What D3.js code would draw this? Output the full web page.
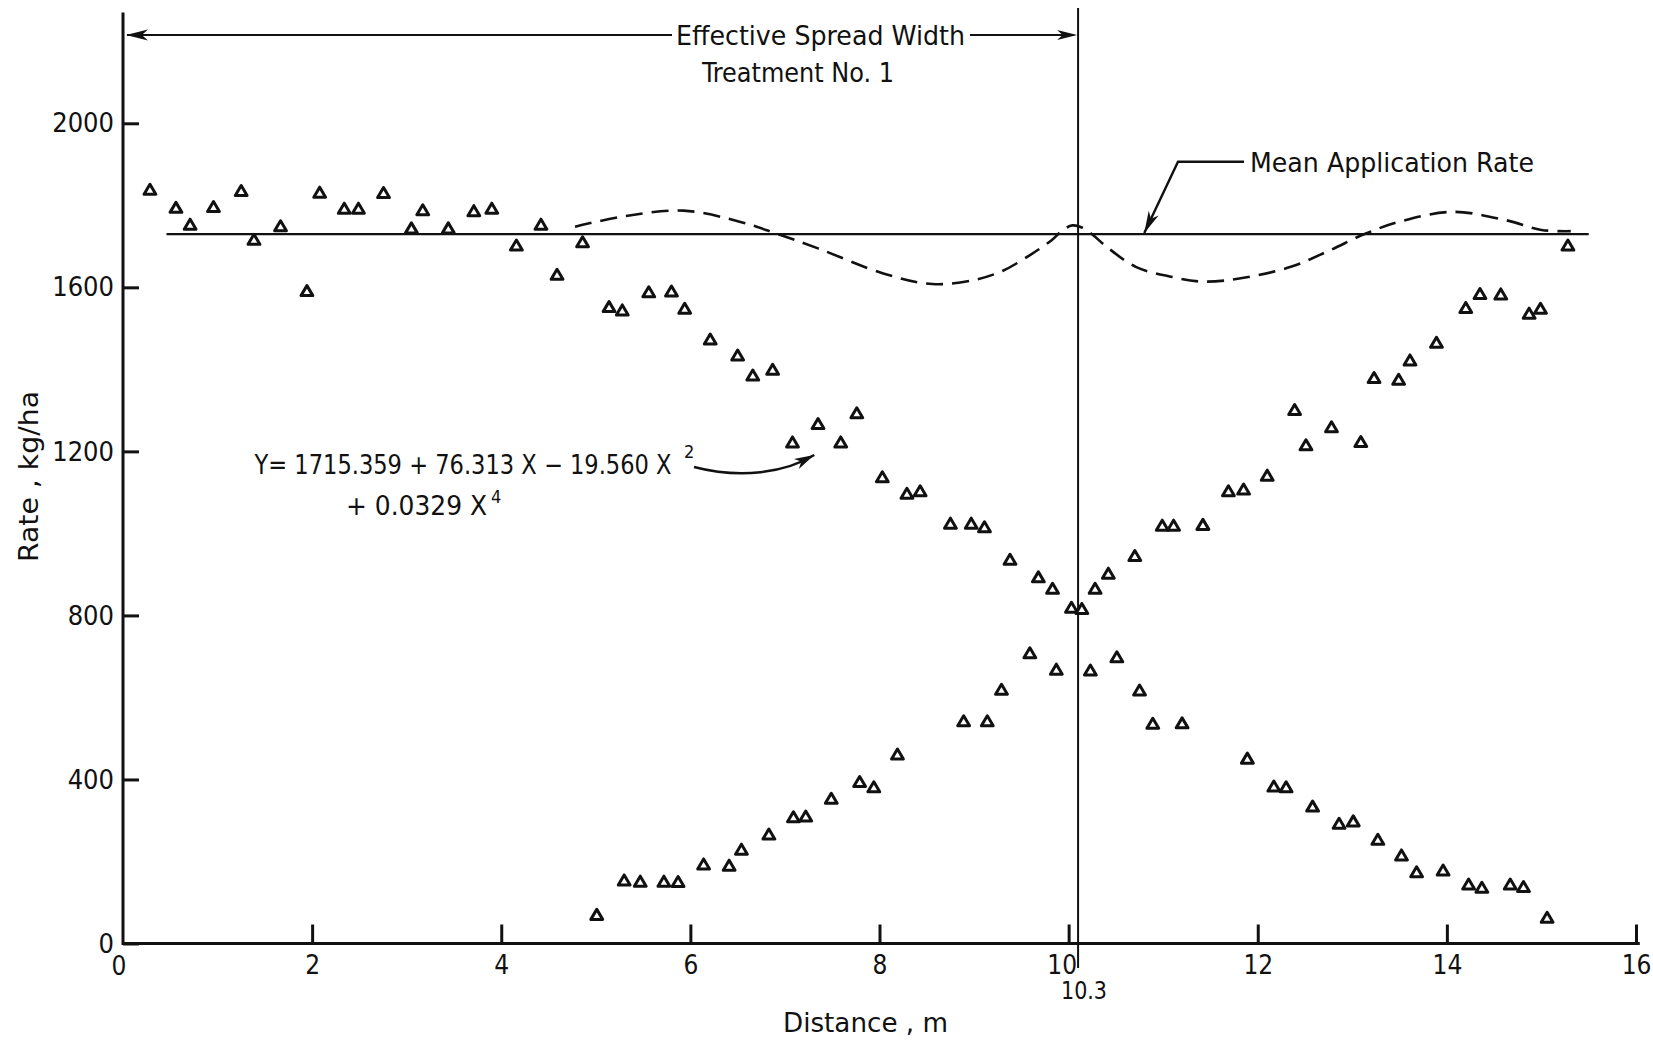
<!DOCTYPE html>
<html><head><meta charset="utf-8">
<script src="https://cdn.jsdelivr.net/npm/d3@7"></script>
<style>
body{margin:0;background:#fff}
svg{display:block}
text{font-family:'DejaVu Sans Condensed','Liberation Sans Narrow','DejaVu Sans',sans-serif;fill:#111}
</style>
</head><body>
<svg id="chart" width="1653" height="1042"></svg>
<script>
// ---------- data ----------
const xTicks = [0, 2, 4, 6, 8, 10, 12, 14, 16];
const yTicks = [0, 400, 800, 1200, 1600, 2000];

// Descending distribution (treatment pass)
const descX = [0.285,0.56,0.71,0.957,1.25,1.385,1.666,1.945,2.08,2.34,2.49,2.755,3.05,3.17,3.44,3.71,3.90,4.16,4.42,4.59,4.86,5.14,5.28,5.56,5.80,5.94,6.21,6.50,6.66,6.87,7.08,7.35,7.59,7.76,8.03,8.29,8.43,8.75,8.97,9.11,9.38,9.68,9.83,10.03,10.23,10.51,10.75,10.89,11.20,11.89,12.17,12.30,12.58,12.86,13.01,13.27,13.52,13.68,13.96,14.23,14.37,14.67,14.81,15.06];
const descY = [1839,1795,1754,1797,1836,1717,1750,1592,1832,1793,1793,1831,1745,1789,1745,1787,1793,1703,1754,1632,1711,1553,1545,1589,1591,1549,1474,1435,1386,1400,1223,1268,1223,1294,1138,1098,1104,1025,1025,1016,937,894,866,820,667,699,618,537,538,452,384,382,335,293,299,254,216,175,179,145,137,145,139,64];

// Ascending distribution (adjacent pass)
const ascX = [5.01,5.30,5.47,5.72,5.87,6.14,6.41,6.54,6.83,7.09,7.22,7.49,7.79,7.94,8.19,8.89,9.14,9.29,9.59,9.87,10.14,10.28,10.42,10.70,10.99,11.11,11.42,11.69,11.85,12.10,12.39,12.51,12.78,13.09,13.23,13.49,13.61,13.89,14.20,14.35,14.57,14.87,14.99,15.28];
const ascY = [71,155,152,152,151,194,191,230,267,309,311,354,395,382,462,543,543,620,709,669,817,866,903,946,1020,1020,1022,1104,1108,1142,1302,1216,1260,1224,1380,1376,1423,1466,1551,1585,1584,1537,1549,1703];

// Overlapped (fitted) distribution, dashed
const curveX = [4.78,5.32,5.93,6.54,6.90,7.35,8.04,8.56,9.00,9.30,9.60,9.82,9.94,10.04,10.14,10.26,10.38,10.71,11.08,11.41,11.82,12.35,12.76,13.13,13.50,14.06,14.62,15.00,15.31];
const curveY = [1748,1774,1787,1759,1732,1695,1634,1608,1618,1640,1680,1715,1740,1751,1746,1727,1703,1650,1626,1614,1622,1650,1690,1730,1760,1784,1764,1740,1737];

const meanRate = 1730;
const meanExtent = [0.46, 15.5];
const spreadWidthPos = 10.1;      // where the divider is drawn on the figure
const spreadWidthLabel = "10.3";

// ---------- scales ----------
const svg = d3.select("#chart");
const x = d3.scaleLinear().domain([0, 16]).range([123, 1636]);
const y = d3.scaleLinear().domain([0, 2000]).range([943.5, 123.3]);

const ink = "#111";

// ---------- axes ----------
const yAxis = d3.axisLeft(y).tickValues(yTicks).tickSize(-16).tickPadding(9).tickFormat(d3.format("d"));
const gy = svg.append("g").attr("transform", `translate(${x(0)},0)`).call(yAxis);
gy.select(".domain").remove();
gy.selectAll(".tick line").attr("stroke", ink).attr("stroke-width", 3);
gy.selectAll(".tick text").attr("font-size", 27).attr("fill", ink);

const xAxis = d3.axisBottom(x).tickValues(xTicks.filter(d => d > 0)).tickSize(-19).tickPadding(12).tickFormat(d3.format("d"));
const gx = svg.append("g").attr("transform", `translate(0,${y(0)})`).call(xAxis);
gx.select(".domain").remove();
gx.selectAll(".tick line").attr("stroke", ink).attr("stroke-width", 3);
gx.selectAll(".tick text").attr("font-size", 26).attr("fill", ink)
  .attr("dx", d => d === 10 ? -7 : 0);
// x-axis "0" label (no tick mark, sits at the corner)
svg.append("text").attr("x", x(0) - 4).attr("y", 975).attr("text-anchor", "middle")
  .attr("font-size", 26).text(xTicks[0]);

// axis lines
svg.append("line").attr("x1", x(0)).attr("x2", x(0)).attr("y1", y(0) + 1.5).attr("y2", y(2270))
  .attr("stroke", ink).attr("stroke-width", 3);
svg.append("line").attr("x1", x(0)).attr("x2", x(16.04)).attr("y1", y(0)).attr("y2", y(0))
  .attr("stroke", ink).attr("stroke-width", 3);

// ---------- helpers ----------
function arrowHead(tip, from, len, half) {
  const dx = tip[0] - from[0], dy = tip[1] - from[1];
  const L = Math.hypot(dx, dy), ux = dx / L, uy = dy / L, px = -uy, py = ux;
  const bx = tip[0] - ux * len, by = tip[1] - uy * len;
  const nx = tip[0] - ux * len * 0.72, ny = tip[1] - uy * len * 0.72;
  svg.append("path")
    .attr("d", `M${tip[0]},${tip[1]}L${bx + px * half},${by + py * half}L${nx},${ny}L${bx - px * half},${by - py * half}Z`)
    .attr("fill", ink);
}

// ---------- mean application rate line ----------
svg.append("line")
  .attr("x1", x(meanExtent[0])).attr("x2", x(meanExtent[1]))
  .attr("y1", y(meanRate)).attr("y2", y(meanRate))
  .attr("stroke", ink).attr("stroke-width", 2.2);

// ---------- divider (effective spread width) ----------
svg.append("line")
  .attr("x1", x(spreadWidthPos)).attr("x2", x(spreadWidthPos))
  .attr("y1", 8).attr("y2", 968)
  .attr("stroke", ink).attr("stroke-width", 2);

// ---------- dashed overlap curve ----------
const curvePts = curveX.map((d, i) => [d, curveY[i]]);
svg.append("path")
  .attr("d", d3.line().x(d => x(d[0])).y(d => y(d[1])).curve(d3.curveCatmullRom.alpha(0.5))(curvePts))
  .attr("fill", "none").attr("stroke", ink).attr("stroke-width", 2.6)
  .attr("stroke-dasharray", "17,9");

// ---------- triangles ----------
const tri = "M0,-5L5.9,5L-5.9,5Z";
const pts = descX.map((d, i) => [d, descY[i]]).concat(ascX.map((d, i) => [d, ascY[i]]));
svg.append("g").selectAll("path").data(pts).join("path")
  .attr("d", tri)
  .attr("transform", d => `translate(${x(d[0])},${y(d[1])})`)
  .attr("fill", "#fff").attr("stroke", ink).attr("stroke-width", 3)
  .attr("stroke-linejoin", "round");

// ---------- top annotation: effective spread width ----------
const topY = 35;
svg.append("line").attr("x1", x(0) + 4).attr("x2", 672).attr("y1", topY).attr("y2", topY)
  .attr("stroke", ink).attr("stroke-width", 2);
svg.append("line").attr("x1", 970).attr("x2", x(spreadWidthPos) - 4).attr("y1", topY).attr("y2", topY)
  .attr("stroke", ink).attr("stroke-width", 2);
arrowHead([x(0) + 3, topY], [x(0) + 50, topY], 22, 5.5);
arrowHead([x(spreadWidthPos) - 1, topY], [x(spreadWidthPos) - 50, topY], 20, 5);
svg.append("text").attr("x", 676).attr("y", 45).attr("font-size", 27)
  .attr("textLength", 289).attr("lengthAdjust", "spacingAndGlyphs").text("Effective Spread Width");
svg.append("text").attr("x", 702).attr("y", 81.7).attr("font-size", 27)
  .attr("textLength", 192).attr("lengthAdjust", "spacingAndGlyphs").text("Treatment No. 1");

// ---------- mean application rate label ----------
const meanTip = [x(10.8), y(meanRate) - 1];
const elbow = [1178, 161.7];
svg.append("path").attr("d", `M1244,161.7L${elbow[0]},${elbow[1]}L${meanTip[0]},${meanTip[1]}`)
  .attr("fill", "none").attr("stroke", ink).attr("stroke-width", 2.4);
arrowHead(meanTip, elbow, 22, 5.5);
svg.append("text").attr("x", 1250).attr("y", 171.7).attr("font-size", 27)
  .attr("textLength", 284).attr("lengthAdjust", "spacingAndGlyphs").text("Mean Application Rate");

// ---------- equation (superscripts as tspans of the same text) ----------
const eq1 = svg.append("text").attr("x", 254.5).attr("y", 474).attr("font-size", 27);
eq1.append("tspan").attr("textLength", 417).attr("lengthAdjust", "spacingAndGlyphs")
  .text("Y= 1715.359 + 76.313 X \u2212 19.560 X");
eq1.append("tspan").attr("x", 684).attr("dy", -16).attr("font-size", 18).text("2");
const eq2 = svg.append("text").attr("x", 346).attr("y", 515).attr("font-size", 27);
eq2.append("tspan").attr("textLength", 141).attr("lengthAdjust", "spacingAndGlyphs").text("+ 0.0329 X");
eq2.append("tspan").attr("x", 491).attr("dy", -12).attr("font-size", 18).text("4");
const eqTip = [x(7.31), y(1191)];
svg.append("path").attr("d", `M694,467C740,479 785,473 ${eqTip[0]},${eqTip[1]}`)
  .attr("fill", "none").attr("stroke", ink).attr("stroke-width", 2.4);
arrowHead(eqTip, [eqTip[0] - 28, eqTip[1] + 14], 20, 5.5);

// ---------- axis titles ----------
svg.append("text").attr("x", 783).attr("y", 1032).attr("font-size", 26)
  .attr("textLength", 165).attr("lengthAdjust", "spacingAndGlyphs").text("Distance , m");
svg.append("text").attr("transform", "translate(38,562) rotate(-90)").attr("font-size", 26)
  .attr("textLength", 171).attr("lengthAdjust", "spacingAndGlyphs").text("Rate , kg/ha");
svg.append("text").attr("x", 1061).attr("y", 999).attr("font-size", 25)
  .attr("textLength", 46).attr("lengthAdjust", "spacingAndGlyphs").text(spreadWidthLabel);
</script>
</body></html>
